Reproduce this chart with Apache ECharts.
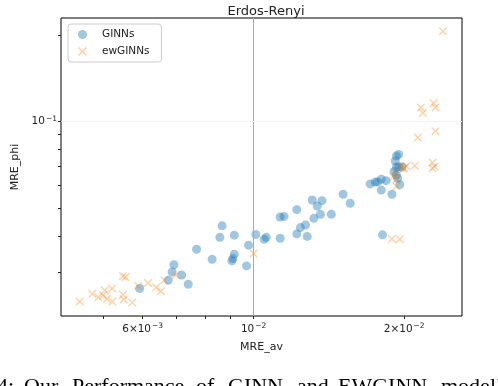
<!DOCTYPE html>
<html>
<head>
<meta charset="utf-8">
<script src="https://cdn.jsdelivr.net/npm/echarts@6/dist/echarts.min.js"></script>
<style>
  html, body { margin: 0; padding: 0; background: #fff; }
  #chart1 { width: 498px; height: 386px; }
</style>
</head>
<body>
<div id="chart1"></div>
<script>
// 数据：点 (MRE_av, MRE_phi)
var ginnX = [0.00592, 0.00675, 0.00687, 0.00693, 0.00718, 0.00740, 0.00769, 0.00826, 0.00856, 0.00865, 0.00905, 0.00909, 0.00915, 0.00915, 0.00968, 0.00977,
  0.0101, 0.0105, 0.0106, 0.0113, 0.0113, 0.0115, 0.0122, 0.0122, 0.0124, 0.0127, 0.0128, 0.0131, 0.0132, 0.0134, 0.0136, 0.0137, 0.0143, 0.0151, 0.0156,
  0.0171, 0.0175, 0.0177, 0.0180, 0.0184, 0.0180, 0.0189, 0.0181,
  0.0193, 0.0195, 0.0193, 0.0191, 0.0195, 0.0194, 0.0196, 0.0198, 0.0193, 0.0192];
var ginnY = [0.0263, 0.0281, 0.0300, 0.0318, 0.0293, 0.0272, 0.0360, 0.0332, 0.0396, 0.0434, 0.0328, 0.0334, 0.0403, 0.0346, 0.0315, 0.0372,
  0.0405, 0.0390, 0.0396, 0.0393, 0.0466, 0.0468, 0.0407, 0.0494, 0.0428, 0.0437, 0.0399, 0.0534, 0.0461, 0.0509, 0.0476, 0.0531, 0.0476, 0.0559, 0.0520,
  0.0607, 0.0616, 0.0617, 0.0630, 0.0623, 0.0578, 0.0559, 0.0404,
  0.0759, 0.0769, 0.0695, 0.0671, 0.0697, 0.0635, 0.0604, 0.0695, 0.0652, 0.0729];

var ewX = [0.00449, 0.00476, 0.00489, 0.00500, 0.00504, 0.00509, 0.00521, 0.00522, 0.00548, 0.00554, 0.00548, 0.00550, 0.00572, 0.00588, 0.00615, 0.00638, 0.00653, 0.00663, 0.00699, 0.0100,
  0.0239, 0.0216, 0.0218, 0.0229, 0.0231, 0.0213, 0.0231, 0.0210, 0.0228, 0.0228, 0.0230,
  0.0197, 0.0200, 0.0202, 0.0199, 0.0190, 0.0192, 0.0193, 0.0193, 0.0189, 0.0196];
var ewY = [0.0237, 0.0252, 0.0245, 0.0249, 0.0259, 0.0242, 0.0263, 0.0237, 0.0290, 0.0288, 0.0250, 0.0241, 0.0235, 0.0268, 0.0275, 0.0265, 0.0257, 0.0281, 0.0293, 0.0348,
  0.206, 0.112, 0.107, 0.1157, 0.112, 0.0880, 0.0925, 0.0702, 0.0721, 0.0688, 0.0698,
  0.0700, 0.0689, 0.0700, 0.0684, 0.0643, 0.0663, 0.0630, 0.0595, 0.0391, 0.0390];

// 刻度
var xTicks = [0.005, 0.006, 0.007, 0.008, 0.009, 0.01, 0.02];
var xLabels = [0.006, 0.01, 0.02];
var yTicks = [0.03, 0.04, 0.05, 0.06, 0.07, 0.08, 0.09, 0.1, 0.2];
var yLabels = [0.1];

// 图下方被裁掉一半的说明文字
var captionWords = ['4:', 'Our', 'Performance', 'of', 'GINN', 'and', 'EWGINN', 'model', 'b'];
var captionLeft = [-3, 24, 72, 196, 228, 297, 338, 441, 497];

function zip(xs, ys) {
  return xs.map(function (x, i) { return [x, ys[i]]; });
}

function sciLabel(v) {
  var e = Math.floor(Math.log10(v) + 1e-9);
  var m = Math.round(v / Math.pow(10, e));
  var head = m === 1 ? '10' : m + '\u00d710';
  return '{n|' + head + '}{s|\u2212' + (-e) + '}';
}

var font = 'DejaVu Sans';
var crossPath = 'path://M1.2,0L5,3.8L8.8,0L10,1.2L6.2,5L10,8.8L8.8,10L5,6.2L1.2,10L0,8.8L3.8,5L0,1.2Z';
var labelRich = {
  n: { fontFamily: font, fontSize: 10.5, color: '#222' },
  s: { fontFamily: font, fontSize: 7.5, color: '#222', verticalAlign: 'top', padding: [0, 0, 6, 1] }
};

var chart1 = echarts.init(document.getElementById('chart1'));

var option1 = {
  animation: false,
  title: {
    text: 'Erdos-Renyi',
    left: 261,
    top: 0,
    textAlign: 'center',
    textStyle: { fontFamily: font, fontSize: 13, fontWeight: 'normal', color: '#222' }
  },
  legend: {
    orient: 'vertical',
    left: 68,
    top: 24,
    padding: [5, 12, 5, 10],
    itemGap: 6,
    itemWidth: 9,
    itemHeight: 9,
    borderColor: '#ccc',
    borderWidth: 1,
    borderRadius: 3,
    textStyle: { fontFamily: font, fontSize: 10.5, color: '#222', padding: [0, 0, 0, 10] },
    data: ['GINNs', 'ewGINNs']
  },
  grid: {
    left: 61, right: 36, top: 18, bottom: 70,
    show: true, borderColor: '#000', borderWidth: 1
  },
  xAxis: {
    type: 'log',
    min: 0.00412,
    max: 0.0261,
    name: 'MRE_av',
    nameLocation: 'middle',
    nameGap: 26,
    nameTextStyle: { fontFamily: font, fontSize: 11, color: '#222' },
    axisLine: { show: false },
    axisTick: { show: true, length: 3, customValues: xTicks, lineStyle: { color: '#222' } },
    axisLabel: { customValues: xLabels, margin: 6, formatter: sciLabel, rich: labelRich },
    splitLine: { show: false }
  },
  yAxis: {
    type: 'log',
    min: 0.0211,
    max: 0.229,
    name: 'MRE_phi',
    nameLocation: 'middle',
    nameGap: 40,
    nameTextStyle: { fontFamily: font, fontSize: 11, color: '#222' },
    axisLine: { show: false },
    axisTick: { show: true, length: 3, customValues: yTicks, lineStyle: { color: '#222' } },
    axisLabel: { customValues: yLabels, margin: 4, formatter: sciLabel, rich: labelRich },
    splitLine: { show: false }
  },
  series: [
    {
      name: 'GINNs',
      type: 'scatter',
      symbol: 'circle',
      symbolSize: 9,
      itemStyle: { color: '#1f77b4', opacity: 0.42 },
      data: zip(ginnX, ginnY),
      markLine: {
        silent: true,
        symbol: 'none',
        label: { show: false },
        data: [
          { xAxis: 0.01, lineStyle: { color: '#aaa', width: 1, type: 'solid' } },
          { yAxis: 0.1, lineStyle: { color: '#f2f2f2', width: 1, type: 'solid' } }
        ]
      }
    },
    {
      name: 'ewGINNs',
      type: 'scatter',
      symbol: crossPath,
      symbolSize: 8.5,
      itemStyle: { color: '#ff7f0e', opacity: 0.35 },
      data: zip(ewX, ewY)
    }
  ],
  graphic: captionWords.map(function (w, i) {
    return {
      type: 'text',
      left: captionLeft[i],
      top: 376,
      style: { text: w, fontFamily: 'Liberation Serif', fontSize: 22, fill: '#000' }
    };
  })
};

chart1.setOption(option1);

window.onresize = function () {
  chart1.resize();
};
</script>
</body>
</html>
